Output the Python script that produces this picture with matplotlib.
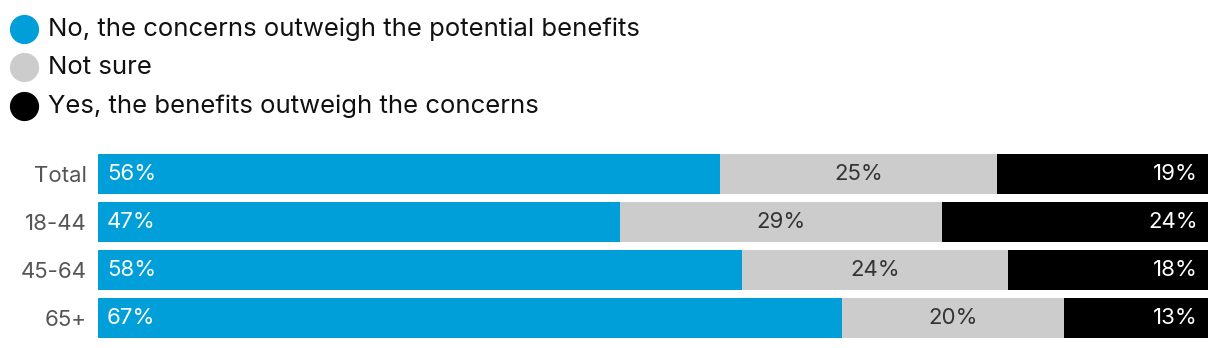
import matplotlib.pyplot as plt

# Data
categories = ['Total', '18-44', '45-64', '65+']
no_concerns = [56, 47, 58, 67]
not_sure = [25, 29, 24, 20]
yes_benefits = [19, 24, 18, 13]

series_names = ['No, the concerns outweigh the potential benefits',
                'Not sure',
                'Yes, the benefits outweigh the concerns']
colors = ['#009FDA', '#CCCCCC', '#000000']
label_colors = ['white', '#333333', 'white']

plt.rcParams['font.family'] = ['Inter', 'DejaVu Sans']

W, H = 1220, 348
fig = plt.figure(figsize=(W / 100, H / 100), dpi=100)

# Bars axes: left 98px, right 1208px, top 154px, bottom 338px
ax = fig.add_axes([98 / W, (H - 338) / H, (1208 - 98) / W, (338 - 154) / H])
bar_h = 40 / 48
ypos = list(range(len(categories)))

left = [0] * len(categories)
for vals, col, lcol, idx in zip([no_concerns, not_sure, yes_benefits], colors, label_colors, range(3)):
    ax.barh(ypos, vals, left=left, height=bar_h, color=col, linewidth=0)
    for y, v, l in zip(ypos, vals, left):
        if idx == 0:
            ax.text(l + 0.8, y, f'{v}%', color=lcol, va='center', ha='left', fontsize=16)
        elif idx == 1:
            ax.text(l + v / 2, y, f'{v}%', color=lcol, va='center', ha='center', fontsize=16)
        else:
            ax.text(l + v - 0.9, y, f'{v}%', color=lcol, va='center', ha='right', fontsize=16)
    left = [a + b for a, b in zip(left, vals)]

ax.set_xlim(0, 100)
ax.set_ylim(len(categories) - 1 + bar_h / 2, -bar_h / 2)
ax.set_yticks(ypos)
ax.set_yticklabels(categories, fontsize=16, color='#555555')
ax.tick_params(axis='y', length=0, pad=8)
ax.set_xticks([])
for s in ax.spines.values():
    s.set_visible(False)

# Legend drawn on an overlay in pixel coordinates
lg = fig.add_axes([0, 0, 1, 1], facecolor='none')
lg.set_xlim(0, W)
lg.set_ylim(H, 0)
lg.axis('off')
leg_y = [29, 67, 106]
for y, name, col in zip(leg_y, series_names, colors):
    lg.plot([24], [y], marker='o', markersize=20, color=col, linestyle='none')
    lg.text(48, y, name, fontsize=18.5, color='#111111', va='center', ha='left')

fig.savefig('out.png', dpi=100)
